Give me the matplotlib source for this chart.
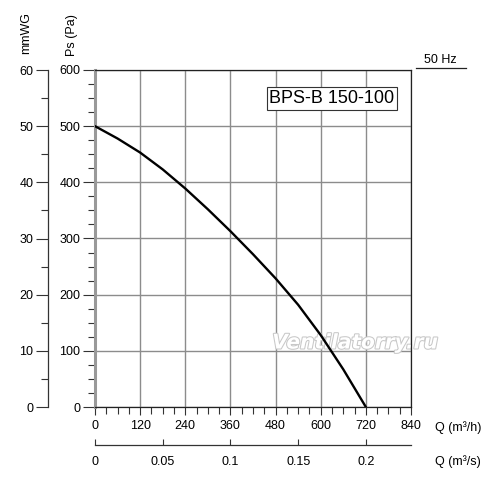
import matplotlib
matplotlib.use("Agg")
import matplotlib.pyplot as plt
import matplotlib.patheffects as pe
from matplotlib.ticker import MultipleLocator

plt.rcParams['font.family'] = ['Liberation Sans', 'DejaVu Sans']

# Data
flow_m3h = [0, 60, 120, 180, 240, 300, 360, 420, 480, 540, 600, 660, 720]
pressure_pa = [500, 478, 453, 423, 389, 352, 313, 272, 229, 182, 128, 67, 0]
x_ticks = [0, 120, 240, 360, 480, 600, 720, 840]
y_ticks_pa = [0, 100, 200, 300, 400, 500, 600]
y_ticks_mm = [0, 10, 20, 30, 40, 50, 60]
x_ticks_m3s = [0, 0.05, 0.1, 0.15, 0.2]
x_tick_labels_m3s = ['0', '0.05', '0.1', '0.15', '0.2']
model = "BPS-B 150-100"
freq = "50 Hz"

W, H = 500, 486
fig = plt.figure(figsize=(W / 100, H / 100), dpi=100)
L, R, T, B = 95, 411, 70, 407
ax = fig.add_axes([L / W, 1 - B / H, (R - L) / W, (B - T) / H])

ax.plot(flow_m3h, pressure_pa, color='black', lw=1.7, solid_capstyle='round',
        solid_joinstyle='round', zorder=3)
ax.set_xlim(0, 840)
ax.set_ylim(0, 600)
ax.set_xticks(x_ticks)
ax.set_yticks(y_ticks_pa)
ax.xaxis.set_minor_locator(MultipleLocator(30))
ax.yaxis.set_minor_locator(MultipleLocator(25))
ax.grid(True, which='major', color='#8c8c8c', lw=1.0)
ax.set_axisbelow(True)
for s in ['top', 'right', 'bottom']:
    ax.spines[s].set_color('#222222')
    ax.spines[s].set_linewidth(0.9)
ax.spines['left'].set_color('#999999')
ax.spines['left'].set_linewidth(2.2)
ax.tick_params(axis='y', which='major', direction='out', length=8.6, width=0.8,
               color='#333333', labelsize=9, pad=2)
ax.tick_params(axis='y', which='minor', direction='out', length=5, width=0.8, color='#333333')
ax.tick_params(axis='x', which='major', direction='out', length=5.5, width=0.8,
               color='#333333', labelsize=9, pad=4)
ax.tick_params(axis='x', which='minor', direction='out', length=5, width=0.8, color='#333333')

ax.text(0.948, 0.915, model, transform=ax.transAxes, ha='right', va='center',
        fontsize=13, bbox=dict(boxstyle='square,pad=0.15', fc='white', ec='#333333', lw=0.8),
        zorder=4)

# Watermark (behind the curve)
ax.text((355 - L) / (R - L), (B - 343) / (B - T), 'Ventilatorry.ru', transform=ax.transAxes,
        ha='center', va='center', fontsize=14.5, fontweight='bold', fontstyle='italic',
        color='white', family=['DejaVu Sans'], clip_on=False,
        path_effects=[pe.withStroke(linewidth=1.5, foreground='#c8c8c8')], zorder=2.5)

# mmWG axis
ax2 = ax.twinx()
ax2.set_ylim(0, 60)
ax2.set_yticks(y_ticks_mm)
ax2.yaxis.set_minor_locator(MultipleLocator(5))
ax2.yaxis.tick_left()
ax2.yaxis.set_label_position('left')
for s in ['top', 'right', 'bottom']:
    ax2.spines[s].set_visible(False)
ax2.spines['left'].set_visible(True)
ax2.spines['left'].set_position(('outward', 47 * 0.72))
ax2.spines['left'].set_color('#333333')
ax2.spines['left'].set_linewidth(0.9)
ax2.tick_params(axis='y', which='major', direction='out', length=8.6, width=0.8,
                color='#333333', labelsize=9, pad=2)
ax2.tick_params(axis='y', which='minor', direction='out', length=5, width=0.8, color='#333333')
ax2.patch.set_visible(False)

# m3/s axis
ax3 = ax.twiny()
ax3.set_xlim(0, 840 / 3600)
ax3.set_xticks(x_ticks_m3s)
ax3.set_xticklabels(x_tick_labels_m3s)
ax3.xaxis.tick_bottom()
for s in ['top', 'right', 'left']:
    ax3.spines[s].set_visible(False)
ax3.spines['bottom'].set_visible(True)
ax3.spines['bottom'].set_position(('outward', 38 * 0.72))
ax3.spines['bottom'].set_color('#333333')
ax3.spines['bottom'].set_linewidth(0.9)
ax3.tick_params(axis='x', which='major', direction='in', length=4, width=0.8,
                color='#333333', labelsize=9, pad=8)
ax3.patch.set_visible(False)

# Axis titles
fig.text(72 / W, 1 - 35 / H, 'Ps (Pa)', rotation=90, ha='center', va='center', fontsize=9)
fig.text(26 / W, 1 - 33 / H, 'mmWG', rotation=90, ha='center', va='center', fontsize=9)
fig.text(435 / W, 1 - 428 / H, 'Q (m³/h)', ha='left', va='center', fontsize=9)
fig.text(435 / W, 1 - 462 / H, 'Q (m³/s)', ha='left', va='center', fontsize=9)

# Frequency label
fig.text(440 / W, 1 - 60 / H, freq, ha='center', va='center', fontsize=9)
fig.add_artist(plt.Line2D([416 / W, 466 / W], [1 - 68 / H, 1 - 68 / H],
                          color='#222222', lw=0.9, transform=fig.transFigure))

fig.savefig('out.png', dpi=100)
